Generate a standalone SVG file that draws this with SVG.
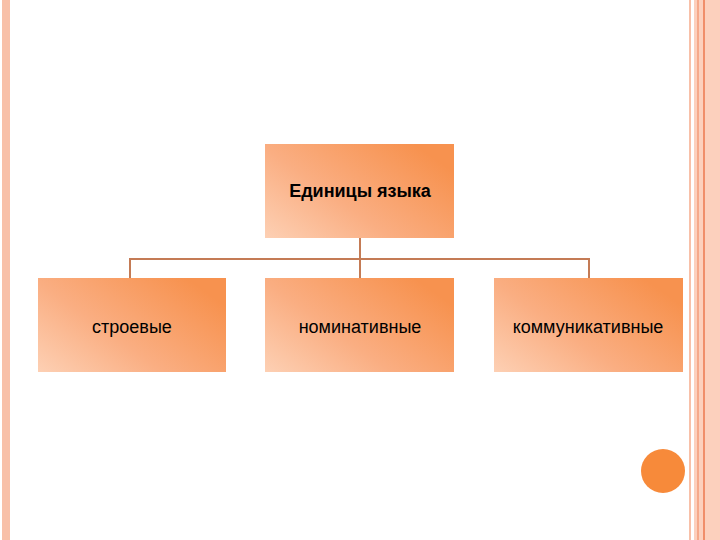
<svg xmlns="http://www.w3.org/2000/svg" width="720" height="540" viewBox="0 0 720 540">
<defs>
<linearGradient id="g" x1="0" y1="1" x2="1" y2="0.3">
<stop offset="0" stop-color="#fdd0b4"/>
<stop offset="0.45" stop-color="#faae82"/>
<stop offset="1" stop-color="#f7924f"/>
</linearGradient>
<style>
.box{fill:url(#g);}
.t{font-family:"Liberation Sans",Arial,sans-serif;font-size:18px;fill:#000;text-anchor:middle;}
.c{fill:none;stroke:#c47b55;stroke-width:2;}
</style>
</defs>
<rect width="720" height="540" fill="#fff"/>
<rect x="2" y="0" width="8" height="540" fill="#f8c0a8"/>
<rect x="689" y="0" width="2" height="540" fill="#f8c0a8"/>
<rect x="694" y="0" width="26" height="540" fill="#fcd0bd"/>
<rect x="697" y="0" width="2" height="540" fill="#f6a98a"/>
<rect x="703" y="0" width="2" height="540" fill="#f08e6a"/>
<g id="connectors">
<path class="c" d="M360 238V259M130 278V259H589V278M360 259V278"/>
</g>
<g id="n0"><rect class="box" x="265" y="144" width="189" height="94"/><text class="t" x="360" y="197" font-weight="bold">Единицы языка</text></g>
<g id="n1"><rect class="box" x="38" y="278" width="188" height="94"/><text class="t" x="132" y="333">строевые</text></g>
<g id="n2"><rect class="box" x="265" y="278" width="189" height="94"/><text class="t" x="360" y="333">номинативные</text></g>
<g id="n3"><rect class="box" x="494" y="278" width="189" height="94"/><text class="t" x="588" y="333">коммуникативные</text></g>
<circle cx="663" cy="471" r="22" fill="#f78a3a"/>
</svg>
